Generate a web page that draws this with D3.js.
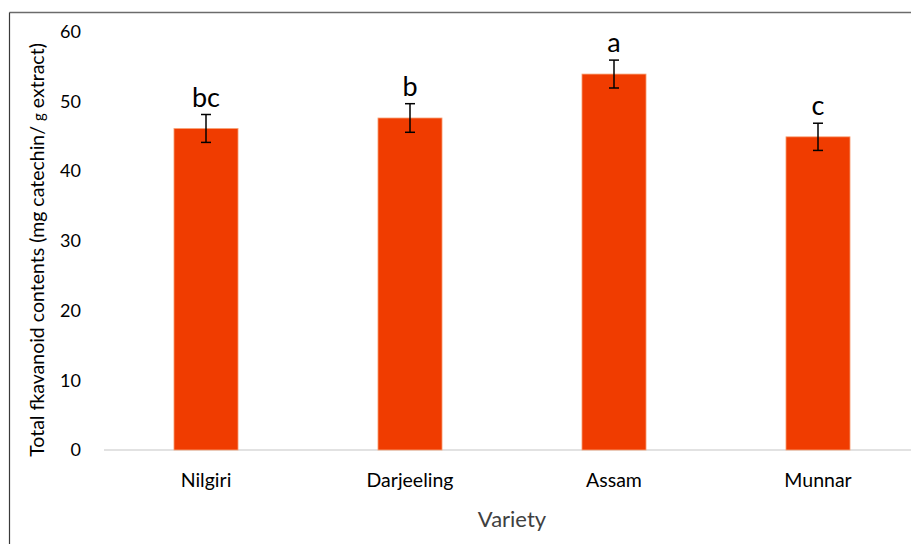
<!DOCTYPE html>
<html>
<head>
<meta charset="utf-8">
<script src="https://cdn.jsdelivr.net/npm/d3@7"></script>
<style>
  body { margin: 0; background: #fff; }
  text { font-family: Lato, "Open Sans", sans-serif; }
</style>
</head>
<body>
<div id="chart"></div>
<script>
// data
const varieties = ["Nilgiri", "Darjeeling", "Assam", "Munnar"];
const flavonoid = [46.1, 47.6, 53.9, 44.9];
const errors = [2.0, 2.05, 2.0, 1.95];
const groups = ["bc", "b", "a", "c"];
const yTicks = [0, 10, 20, 30, 40, 50, 60];

const W = 911, H = 544;

let svg = d3.select("#chart").append("svg")
    .attr("width", W)
    .attr("height", H);

// frame (top and left edges visible)
svg.append("line")
    .attr("x1", 9.5).attr("x2", W).attr("y1", 12.5).attr("y2", 12.5)
    .attr("stroke", "#6b6b6b").attr("stroke-width", 1.5);
svg.append("line")
    .attr("x1", 9.5).attr("x2", 9.5).attr("y1", 12.5).attr("y2", H)
    .attr("stroke", "#3a3a3a").attr("stroke-width", 1.2);

// scales
let y = d3.scaleLinear()
    .domain([0, 60])
    .range([450, 31.5]);

let x = d3.scaleBand()
    .domain(varieties)
    .range([104, 920])
    .paddingInner(0.686)
    .paddingOuter(0.343);

// y axis labels only (no line)
let yAxis = d3.axisLeft(y).tickValues(yTicks).tickSize(0).tickPadding(0);
let yAxisGroup = svg.append("g")
    .attr("transform", "translate(81,0)")
    .call(yAxis);
yAxisGroup.select(".domain").remove();
yAxisGroup.selectAll("text")
    .attr("font-family", "Lato, sans-serif")
    .attr("font-size", 18)
    .attr("fill", "#000");

// x axis
let xAxis = d3.axisBottom(x).tickSize(0).tickPadding(23);
let xAxisGroup = svg.append("g")
    .attr("transform", "translate(0,450)")
    .call(xAxis);
xAxisGroup.select(".domain").remove();
xAxisGroup.selectAll("text")
    .attr("font-family", "Lato, sans-serif")
    .attr("font-size", 19.5)
    .attr("fill", "#000");

svg.append("line")
    .attr("x1", 104).attr("x2", W)
    .attr("y1", 450).attr("y2", 450)
    .attr("stroke", "#d9d9d9").attr("stroke-width", 1.5);

let rows = varieties.map((v, i) => ({name: v, val: flavonoid[i], err: errors[i], grp: groups[i]}));

// bars
svg.selectAll(".bar")
    .data(rows)
    .join("rect")
    .attr("class", "bar")
    .attr("x", d => x(d.name))
    .attr("y", d => y(d.val))
    .attr("width", x.bandwidth())
    .attr("height", d => y(0) - y(d.val))
    .attr("fill", "#f03c00")
    .attr("stroke", "#f8a57a")
    .attr("stroke-width", 0.8);

// error bars
let eb = svg.selectAll(".err")
    .data(rows)
    .join("g")
    .attr("class", "err")
    .attr("stroke", "#000")
    .attr("stroke-width", 1.5);
eb.append("line")
    .attr("x1", d => x(d.name) + x.bandwidth() / 2)
    .attr("x2", d => x(d.name) + x.bandwidth() / 2)
    .attr("y1", d => y(d.val + d.err))
    .attr("y2", d => y(d.val - d.err));
eb.append("line")
    .attr("x1", d => x(d.name) + x.bandwidth() / 2 - 5)
    .attr("x2", d => x(d.name) + x.bandwidth() / 2 + 5)
    .attr("y1", d => y(d.val + d.err))
    .attr("y2", d => y(d.val + d.err));
eb.append("line")
    .attr("x1", d => x(d.name) + x.bandwidth() / 2 - 5)
    .attr("x2", d => x(d.name) + x.bandwidth() / 2 + 5)
    .attr("y1", d => y(d.val - d.err))
    .attr("y2", d => y(d.val - d.err));

// significance letters
svg.selectAll(".grp")
    .data(rows)
    .join("text")
    .attr("class", "grp")
    .attr("x", d => x(d.name) + x.bandwidth() / 2)
    .attr("y", d => y(d.val + d.err) - 8)
    .attr("text-anchor", "middle")
    .attr("font-size", 27)
    .attr("fill", "#000")
    .text(d => d.grp);

// axis titles
svg.append("text")
    .attr("x", 512)
    .attr("y", 527)
    .attr("text-anchor", "middle")
    .attr("font-size", 22)
    .attr("fill", "#404040")
    .text("Variety");

let yTitle = svg.append("text")
    .attr("transform", "translate(44,250) rotate(-90)")
    .attr("text-anchor", "middle")
    .attr("font-size", 19.5)
    .attr("fill", "#000");
yTitle.append("tspan").text("Total fkavanoid contents (mg catechin/ ");
yTitle.append("tspan").attr("font-size", 15).text("g");
yTitle.append("tspan").text(" extract)");
</script>
</body>
</html>
